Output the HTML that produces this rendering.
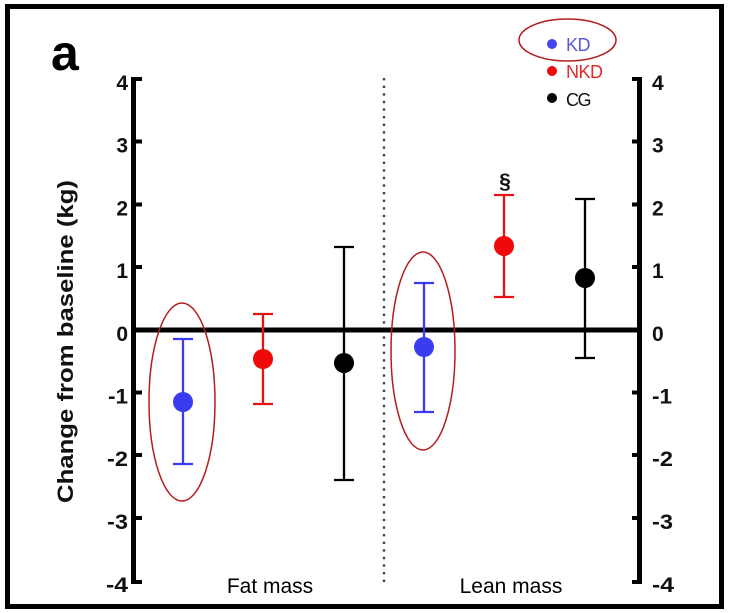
<!DOCTYPE html>
<html>
<head>
<meta charset="utf-8">
<style>
  html,body{margin:0;padding:0;background:#fff;}
  svg{display:block;}
  text{font-family:"Liberation Sans", Arial, sans-serif;}
</style>
</head>
<body>
<svg width="730" height="613" viewBox="0 0 730 613" xmlns="http://www.w3.org/2000/svg">
  <rect x="0" y="0" width="730" height="613" fill="#fff"/>
  <!-- outer frame -->
  <rect x="7.5" y="6.5" width="714" height="600" fill="none" stroke="#000" stroke-width="5"/>

  <!-- panel label -->
  <text x="51" y="70" font-size="50" font-weight="bold" fill="#000">a</text>

  <!-- y label -->
  <text transform="translate(73,341.5) rotate(-90)" text-anchor="middle" font-size="22" font-weight="bold" fill="#111" textLength="323" lengthAdjust="spacingAndGlyphs">Change from baseline (kg)</text>

  <!-- dotted divider -->
  <line x1="384" y1="78" x2="384" y2="587" stroke="#444" stroke-width="2.4" stroke-dasharray="2.4 5.2"/>

  <!-- left axis -->
  <rect x="131" y="77" width="5" height="507" fill="#000"/>
  <g fill="#000">
    <rect x="135" y="77" width="7" height="4"/>
    <rect x="135" y="139.5" width="7" height="4"/>
    <rect x="135" y="202.5" width="7" height="4"/>
    <rect x="135" y="265" width="7" height="4"/>
    <rect x="135" y="390.5" width="7" height="4"/>
    <rect x="135" y="453" width="7" height="4"/>
    <rect x="135" y="516" width="7" height="4"/>
    <rect x="135" y="580" width="7" height="4"/>
  </g>
  <g font-size="21" font-weight="bold" fill="#111" text-anchor="end">
    <text x="128" y="90">4</text>
    <text x="128" y="152.5">3</text>
    <text x="128" y="215.5">2</text>
    <text x="128" y="278">1</text>
    <text x="128" y="341">0</text>
    <text x="128" y="403.5" textLength="20" lengthAdjust="spacingAndGlyphs">-1</text>
    <text x="128" y="466" textLength="21" lengthAdjust="spacingAndGlyphs">-2</text>
    <text x="128" y="529" textLength="21" lengthAdjust="spacingAndGlyphs">-3</text>
    <text x="128" y="592" textLength="22" lengthAdjust="spacingAndGlyphs">-4</text>
  </g>

  <!-- right axis -->
  <rect x="637" y="77" width="5" height="507" fill="#000"/>
  <g fill="#000">
    <rect x="632" y="77" width="6" height="4"/>
    <rect x="632" y="139.5" width="6" height="4"/>
    <rect x="632" y="202.5" width="6" height="4"/>
    <rect x="632" y="265" width="6" height="4"/>
    <rect x="632" y="390.5" width="6" height="4"/>
    <rect x="632" y="453" width="6" height="4"/>
    <rect x="632" y="516" width="6" height="4"/>
    <rect x="632" y="580" width="6" height="4"/>
  </g>
  <g font-size="21" font-weight="bold" fill="#111" text-anchor="start">
    <text x="652" y="90">4</text>
    <text x="652" y="152.5">3</text>
    <text x="652" y="215.5">2</text>
    <text x="652" y="278">1</text>
    <text x="652" y="341">0</text>
    <text x="652" y="403.5" textLength="20" lengthAdjust="spacingAndGlyphs">-1</text>
    <text x="652" y="466" textLength="21" lengthAdjust="spacingAndGlyphs">-2</text>
    <text x="652" y="529" textLength="21" lengthAdjust="spacingAndGlyphs">-3</text>
    <text x="652" y="592" textLength="22" lengthAdjust="spacingAndGlyphs">-4</text>
  </g>

  <!-- zero line -->
  <rect x="131" y="327.5" width="511" height="5" fill="#000"/>

  <!-- error bars -->
  <g stroke-width="2.3" fill="none">
    <g stroke="#3a3aee">
      <line x1="183" y1="339" x2="183" y2="464"/>
      <line x1="173" y1="339" x2="193" y2="339"/>
      <line x1="173" y1="464" x2="193" y2="464"/>
    </g>
    <g stroke="#e41414">
      <line x1="263" y1="314" x2="263" y2="404"/>
      <line x1="253" y1="314" x2="273" y2="314"/>
      <line x1="253" y1="404" x2="273" y2="404"/>
    </g>
    <g stroke="#000">
      <line x1="344" y1="247" x2="344" y2="480"/>
      <line x1="334" y1="247" x2="354" y2="247"/>
      <line x1="334" y1="480" x2="354" y2="480"/>
    </g>
    <g stroke="#3a3aee">
      <line x1="424" y1="283" x2="424" y2="412"/>
      <line x1="414" y1="283" x2="434" y2="283"/>
      <line x1="414" y1="412" x2="434" y2="412"/>
    </g>
    <g stroke="#e41414">
      <line x1="504" y1="195" x2="504" y2="297"/>
      <line x1="494" y1="195" x2="514" y2="195"/>
      <line x1="494" y1="297" x2="514" y2="297"/>
    </g>
    <g stroke="#000">
      <line x1="585" y1="199" x2="585" y2="358"/>
      <line x1="575" y1="199" x2="595" y2="199"/>
      <line x1="575" y1="358" x2="595" y2="358"/>
    </g>
  </g>

  <!-- markers -->
  <circle cx="183" cy="402" r="10" fill="#3b3bf0"/>
  <circle cx="263" cy="359" r="10" fill="#ee0a0a"/>
  <circle cx="344" cy="363" r="10" fill="#000"/>
  <circle cx="424" cy="347" r="10" fill="#3b3bf0"/>
  <circle cx="504" cy="246" r="10" fill="#ee0a0a"/>
  <circle cx="585" cy="278" r="10" fill="#000"/>

  <!-- significance mark -->
  <text x="505" y="188" text-anchor="middle" font-size="21" font-weight="bold" fill="#111">§</text>

  <!-- highlight ellipses -->
  <g fill="none" stroke="#b41c1c" stroke-width="1.5">
    <ellipse cx="182" cy="402" rx="33" ry="99"/>
    <ellipse cx="423" cy="351" rx="32" ry="99"/>
    <ellipse cx="567.5" cy="40" rx="48.5" ry="21"/>
  </g>

  <!-- legend -->
  <circle cx="552" cy="44" r="5" fill="#4444ee"/>
  <text x="566" y="51" font-size="18" fill="#5a5ad8" letter-spacing="-0.5">KD</text>
  <circle cx="552" cy="71" r="5" fill="#ee0a0a"/>
  <text x="566" y="78" font-size="18" fill="#e02a2a" letter-spacing="-0.5">NKD</text>
  <circle cx="552" cy="98" r="5" fill="#000"/>
  <text x="566" y="106" font-size="18" fill="#111" letter-spacing="-1.5">CG</text>

  <!-- category labels -->
  <text x="270" y="593" text-anchor="middle" font-size="21" fill="#000">Fat mass</text>
  <text x="511" y="593" text-anchor="middle" font-size="21" fill="#000">Lean mass</text>
</svg>
</body>
</html>
